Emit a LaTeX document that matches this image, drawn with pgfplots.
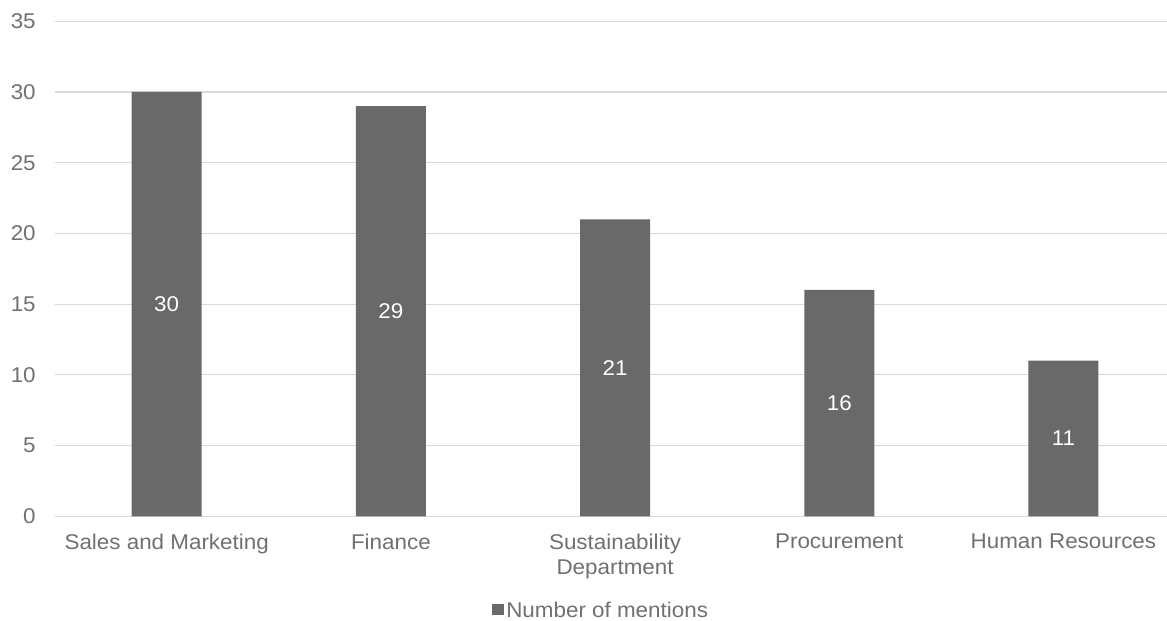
\documentclass[border=0pt]{standalone}
\usepackage{fontspec}
\setmainfont{Liberation Sans}[FakeStretch=1.05]
\usepackage{pgfplots}
\usepackage{pgfplotstable}
\pgfplotsset{compat=1.18}

\definecolor{barcol}{RGB}{105,105,105}
\definecolor{txt}{RGB}{112,112,112}
\definecolor{gridc}{RGB}{217,217,217}

\pgfplotstableread{
x v
0 30
1 29
2 21
3 16
4 11
}\mentions

\newcommand{\lblfont}{\fontsize{16}{19}\selectfont}

\begin{document}
\begin{tikzpicture}
\begin{axis}[
  at={(0,0)}, anchor=south west,
  scale only axis,
  width=834.3pt, height=371.25pt,
  xmin=-0.5, xmax=4.462,
  ymin=0, ymax=35,
  ytick={0,5,...,35},
  xtick={0,...,4},
  xticklabels={Sales and Marketing, Finance, {Sustainability\\Department}, Procurement, Human Resources},
  axis line style={draw=none},
  major tick length=0pt,
  tick style={draw=none},
  ymajorgrids,
  grid style={gridc, line width=0.9pt},
  tick label style={font=\lblfont, text=txt},
  yticklabel style={anchor=east, inner sep=0pt, xshift=-14pt},
  xticklabel style={anchor=north, inner sep=0pt, yshift=-13pt, align=center},
  /pgf/number format/assume math mode=true,
  legend style={at={(0.393,-0.1915)}, anchor=west, draw=none, fill=none,
    inner sep=0pt, nodes={inner sep=0pt, font=\lblfont, text=txt},
    /tikz/every odd column/.append style={column sep=2pt}},
]
\addplot[ybar, bar width=52.5pt, bar shift=0pt, fill=barcol, draw=none,
  legend image code/.code={\fill[barcol] (0pt,-3.3pt) rectangle (8.7pt,5.4pt);}]
  table[x=x, y=v]{\mentions};
\addlegendentry{Number of mentions}

% value labels, centred in each bar
\addplot[forget plot, draw=none, mark=none,
  nodes near coords, point meta=explicit,
  every node near coord/.append style={anchor=center, font=\lblfont, text=white, inner sep=0pt},
  y filter/.expression={y/2}]
  table[x=x, y=v, meta=v]{\mentions};
\end{axis}
\pgfresetboundingbox
\path[use as bounding box] (-40.95pt,-78.5pt) rectangle (834.3pt,387.2pt);
\end{tikzpicture}
\end{document}
